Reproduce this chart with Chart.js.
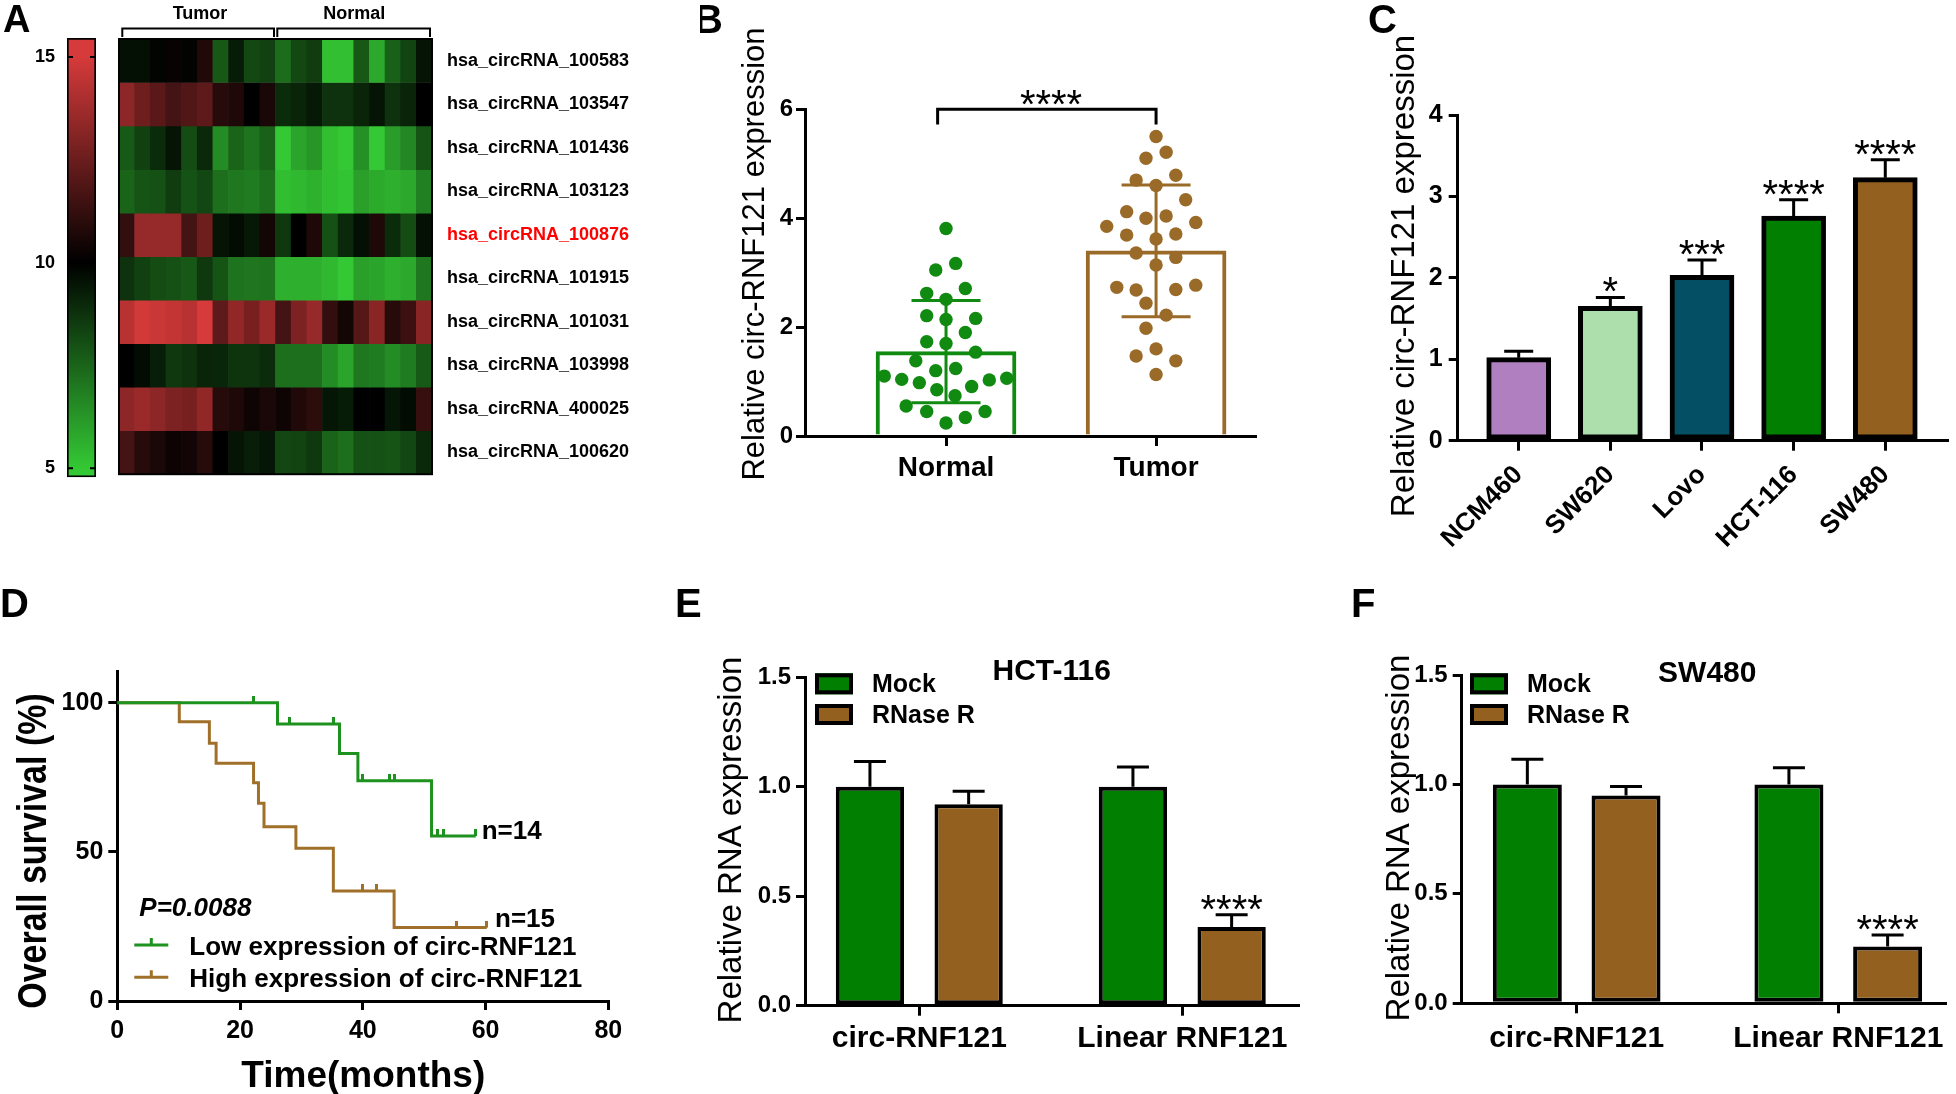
<!DOCTYPE html>
<html>
<head>
<meta charset="utf-8">
<title>circ-RNF121 figure</title>
<script src="https://cdn.jsdelivr.net/npm/chart.js@4.4.1/dist/chart.umd.min.js"></script>
<style>
  html, body { margin: 0; padding: 0; background: #fff; }
  body { position: relative; width: 1956px; height: 1094px; overflow: hidden; }
  canvas { position: absolute; }
</style>
</head>
<body>
<script>
// ---------- data ----------
// A: heatmap (10 circRNAs x 20 samples, first 10 tumor, last 10 normal)
const heatRowNames = ['hsa_circRNA_100583', 'hsa_circRNA_103547', 'hsa_circRNA_101436', 'hsa_circRNA_103123',
  'hsa_circRNA_100876', 'hsa_circRNA_101915', 'hsa_circRNA_101031', 'hsa_circRNA_103998',
  'hsa_circRNA_400025', 'hsa_circRNA_100620'];
const heatSamples = ['T1','T2','T3','T4','T5','T6','T7','T8','T9','T10','N1','N2','N3','N4','N5','N6','N7','N8','N9','N10'];
const heatRows = [
  [9.6, 9.6, 9.9, 10.2, 9.9, 10.8, 7.8, 9.3, 8.2, 8.4, 7.3, 8.2, 8.5, 5.2, 5.2, 7.8, 5.8, 7.6, 8.3, 9.5],
  [13.3, 12.6, 12.1, 11.6, 11.9, 12.2, 10.9, 10.7, 10.0, 10.6, 8.9, 9.1, 9.4, 8.75, 8.75, 9.1, 9.5, 8.75, 9.1, 10.0],
  [7.75, 8.4, 8.9, 9.5, 8.1, 9.0, 6.5, 7.5, 7.1, 7.6, 5.0, 5.9, 6.25, 5.25, 5.0, 6.4, 5.0, 6.1, 6.6, 7.9],
  [7.5, 7.9, 8.0, 8.5, 7.95, 8.25, 7.25, 7.0, 6.9, 7.25, 5.25, 5.4, 5.55, 5.25, 5.1, 6.0, 5.75, 5.6, 5.8, 6.8],
  [11.2, 13.5, 13.5, 13.5, 11.6, 12.6, 9.5, 9.7, 9.4, 10.5, 8.6, 10.0, 10.7, 8.0, 9.0, 9.6, 10.7, 8.9, 8.1, 9.6],
  [8.75, 8.4, 8.1, 8.0, 7.8, 8.6, 7.9, 7.1, 7.05, 7.1, 5.6, 5.6, 5.6, 5.4, 5.0, 6.0, 5.9, 5.6, 5.8, 7.0],
  [14.3, 14.9, 14.7, 14.55, 14.3, 15.0, 12.2, 13.4, 12.8, 13.6, 11.6, 12.9, 13.5, 11.2, 10.5, 12.0, 13.2, 10.9, 11.4, 13.2],
  [10.0, 9.7, 9.25, 8.6, 8.75, 9.1, 9.05, 8.7, 8.7, 8.9, 7.25, 7.25, 7.25, 6.5, 5.9, 7.0, 6.9, 6.5, 6.9, 7.75],
  [13.3, 13.6, 13.3, 12.9, 12.8, 13.4, 10.9, 10.7, 10.35, 10.6, 10.35, 10.8, 11.05, 9.45, 9.3, 10.0, 10.0, 9.45, 9.7, 11.3],
  [11.6, 10.9, 10.6, 10.3, 10.45, 10.9, 10.0, 9.5, 9.25, 9.45, 8.25, 8.3, 8.6, 7.5, 7.25, 8.0, 8.0, 7.9, 8.25, 9.0]
];
const highlightRow = 'hsa_circRNA_100876';
const colorMin = 5, colorMid = 10, colorMax = 15;
const colorTicks = [5, 10, 15];

// B: relative expression, tissue
const bGroups = ['Normal', 'Tumor'];
const bMeans = [1.55, 3.40];
const bSD = [0.94, 1.21];
const normalVals = [3.81, 3.05, 3.17, 2.62, 2.51, 2.71, 2.21, 2.14, 2.16, 1.90, 1.73, 1.70, 1.54, 1.38, 1.20,
  1.24, 1.10, 1.04, 0.98, 1.03, 1.06, 0.85, 0.74, 0.91, 0.55, 0.45, 0.45, 0.34, 0.24];
const normalJitter = [0, -0.049, 0.046, -0.092, 0, 0.092, -0.092, 0, 0.141, 0.092, -0.092, 0, 0.141, -0.144, -0.049,
  0.046, -0.294, -0.211, -0.127, 0.206, 0.289, -0.044, 0.043, 0.122, -0.19, -0.092, 0.186, 0.092, 0];
const tumorVals = [5.50, 5.10, 5.21, 4.70, 4.60, 4.79, 4.34, 4.12, 4.00, 4.04, 3.85, 3.92, 3.69, 3.62, 3.71,
  3.36, 3.28, 3.14, 2.73, 2.68, 2.69, 2.77, 2.44, 2.22, 1.98, 1.47, 1.60, 1.38, 1.13];
const tumorJitter = [0, -0.048, 0.048, -0.095, 0, 0.094, 0.141, -0.140, -0.048, 0.048, -0.235, 0.189, -0.140, 0, 0.094,
  -0.095, 0.094, 0, -0.187, -0.095, 0.094, 0.189, -0.048, 0.048, -0.048, -0.095, 0, 0.094, 0];
const bTicks = [0, 2, 4, 6];

// C: cell lines
const cLines = ['NCM460', 'SW620', 'Lovo', 'HCT-116', 'SW480'];
const cMeans = [1.02, 1.65, 2.03, 2.76, 3.23];
const cSD = [0.08, 0.11, 0.19, 0.20, 0.22];
const cStars = ['', '*', '***', '****', '****'];
const cTicks = [0, 1, 2, 3, 4];

// D: Kaplan-Meier
const lowTimes = [0, 26.1, 36.2, 39.2, 51.2, 58.4];
const lowSurv = [100, 92.9, 83.0, 73.8, 55.3, 55.3];
const lowCensorT = [22.2, 28.1, 35.2, 40.0, 44.3, 45.2, 52.2, 53.2, 58.4];
const lowCensorS = [100, 92.9, 92.9, 73.8, 73.8, 73.8, 55.3, 55.3, 55.3];
const highTimes = [0, 10.1, 15.0, 16.1, 22.2, 23.0, 23.9, 29.1, 35.2, 45.1, 60.2];
const highSurv = [100, 93.6, 86.4, 79.7, 73.2, 66.3, 58.4, 51.2, 36.9, 24.6, 24.6];
const highCensorT = [40.0, 42.2, 55.2, 60.2];
const highCensorS = [36.9, 36.9, 24.6, 24.6];
const dYTicks = [0, 50, 100];

// E, F: RNase R
const rnaGroups = ['circ-RNF121', 'Linear RNF121'];
const eMock = [1.00, 1.00], eMockSD = [0.115, 0.09];
const eRNase = [0.92, 0.36], eRNaseSD = [0.06, 0.055];
const fMock = [1.00, 1.00], fMockSD = [0.115, 0.076];
const fRNase = [0.95, 0.26], fRNaseSD = [0.04, 0.052];
const rnaTicks = [0, 0.5, 1.0, 1.5];

// ---------- style ----------
const FONT = '"Liberation Sans", Arial, Helvetica, sans-serif';
const fnt = (size, weight, style) => `${style || ''} ${weight || 'bold'} ${size}px ${FONT}`;
const GREEN = '#007f00', BROWN = '#946020';
const B_GREEN = '#108a10', B_BROWN = '#9a6a28';
const D_GREEN = '#1e921e', D_BROWN = '#a0702a';
const C_COLORS = ['#b07fc0', '#addfad', '#044f63', '#007f00', '#946020'];

Chart.defaults.font.family = FONT;
Chart.defaults.color = '#000';

function place(left, top, w, h) {
  const c = document.createElement('canvas');
  c.width = w; c.height = h;
  c.style.left = left + 'px'; c.style.top = top + 'px';
  c.style.width = w + 'px'; c.style.height = h + 'px';
  document.body.appendChild(c);
  return c;
}

function baseOpts(padding, scales) {
  return {
    responsive: false, animation: false, devicePixelRatio: 1, events: [],
    layout: { padding },
    plugins: { legend: { display: false }, tooltip: { enabled: false } },
    scales
  };
}

// free text in page coordinates
function notes(left, top, items) {
  return {
    id: 'notes',
    afterDraw(chart) {
      const c = chart.ctx;
      items.forEach(t => {
        c.save();
        c.font = t.font; c.fillStyle = t.color || '#000';
        c.textAlign = t.align || 'left'; c.textBaseline = t.base || 'alphabetic';
        c.translate(t.x - left, t.y - top);
        if (t.rot) c.rotate(t.rot);
        if (t.sx) c.scale(t.sx, 1);
        c.fillText(t.text, 0, 0);
        c.restore();
      });
    }
  };
}

// error bars drawn right after the bar dataset
function errorBars(sets) {
  return {
    id: 'errbars',
    afterDatasetDraw(chart, args) {
      sets.forEach(s => {
        if (args.index !== s.ds) return;
        const meta = chart.getDatasetMeta(s.ds);
        const ys = chart.scales.y, c = chart.ctx;
        meta.data.forEach((el, i) => {
          const v = chart.data.datasets[s.ds].data[i].y;
          const hi = ys.getPixelForValue(v + s.sd[i]);
          const lo = s.both ? ys.getPixelForValue(v - s.sd[i]) : el.y;
          c.save();
          c.strokeStyle = Array.isArray(s.color) ? s.color[i] : s.color;
          c.lineWidth = s.width;
          c.beginPath();
          c.moveTo(el.x, lo); c.lineTo(el.x, hi);
          c.moveTo(el.x - s.cap / 2, hi); c.lineTo(el.x + s.cap / 2, hi);
          if (s.both) { c.moveTo(el.x - s.cap / 2, lo); c.lineTo(el.x + s.cap / 2, lo); }
          c.stroke();
          c.restore();
        });
      });
    }
  };
}

// significance stars (value coordinates; with ds, x is taken from that dataset's bar)
function stars(items, font) {
  return {
    id: 'stars',
    afterDraw(chart) {
      const c = chart.ctx, ys = chart.scales.y;
      c.save();
      c.font = font; c.fillStyle = '#000'; c.textAlign = 'center'; c.textBaseline = 'alphabetic';
      items.forEach(s => {
        if (!s.text) return;
        const px = s.ds !== undefined ? chart.getDatasetMeta(s.ds).data[s.i].x : chart.scales.x.getPixelForValue(s.x);
        c.fillText(s.text, px, ys.getPixelForValue(s.y) + s.dy);
      });
      c.restore();
    }
  };
}

function yAxis(min, max, ticks, width, size, pad, fmt) {
  return {
    type: 'linear', min, max,
    afterBuildTicks: s => { s.ticks = ticks.map(v => ({ value: v })); },
    afterFit: s => { s.width = width; },
    border: { display: true, color: '#000', width: 3 },
    grid: { display: true, drawOnChartArea: false, drawTicks: true, tickLength: 9, color: '#000', lineWidth: 3 },
    ticks: { font: { size, weight: 'bold' }, color: '#000', padding: pad, callback: fmt || (v => v) }
  };
}

function xAxisLinear(min, max, labels, height, size, pad, rot) {
  return {
    type: 'linear', min, max, offset: false,
    afterBuildTicks: s => { s.ticks = labels.map((l, i) => ({ value: i + 1 })); },
    afterFit: s => { s.height = height; },
    border: { display: true, color: '#000', width: 3 },
    grid: { display: true, offset: false, drawOnChartArea: false, drawTicks: true, tickLength: 10, color: '#000', lineWidth: 3 },
    ticks: { font: { size, weight: 'bold' }, color: '#000', padding: pad, autoSkip: false,
      minRotation: rot || 0, maxRotation: rot || 0, callback: (v, i) => labels[i] }
  };
}

function heatColor(v) {
  const t = Math.max(-1, Math.min(1, (v - colorMid) / (colorMax - colorMid)));
  if (t >= 0) return `rgb(${Math.round(214 * t)},${Math.round(58 * t)},${Math.round(58 * t)})`;
  const s = -t;
  return `rgb(${Math.round(52 * s)},${Math.round(200 * s)},${Math.round(52 * s)})`;
}

// ---------- A: colour bar ----------
(function () {
  const L = 0, T = 0;
  new Chart(place(L, T, 110, 500), {
    type: 'bar',
    data: { labels: ['scale'], datasets: [{
      data: [[4.78, 15.46]],
      backgroundColor: ctx => {
        const ch = ctx.chart; if (!ch.chartArea) return '#000';
        const y = ch.scales.y;
        const g = ch.ctx.createLinearGradient(0, y.getPixelForValue(colorMin), 0, y.getPixelForValue(colorMax));
        g.addColorStop(0, heatColor(colorMin)); g.addColorStop(0.5, heatColor(colorMid)); g.addColorStop(1, heatColor(colorMax));
        return g;
      },
      borderColor: '#000', borderWidth: 2, borderSkipped: false,
      barPercentage: 1, categoryPercentage: 1
    }] },
    options: baseOpts({ left: 0, top: 38, right: 14, bottom: 18 }, {
      x: { display: false },
      y: { min: 4.78, max: 15.46,
        afterBuildTicks: s => { s.ticks = colorTicks.map(v => ({ value: v })); },
        afterFit: s => { s.width = 67; },
        border: { display: false }, grid: { display: false, drawTicks: false },
        ticks: { font: { size: 18, weight: 'bold' }, padding: 12 } }
    }),
    plugins: [{
      id: 'cbticks',
      afterDraw(chart) {
        const c = chart.ctx, a = chart.chartArea, y = chart.scales.y;
        c.save(); c.strokeStyle = '#000'; c.lineWidth = 2;
        colorTicks.forEach(v => {
          const py = y.getPixelForValue(v);
          c.beginPath(); c.moveTo(a.left, py); c.lineTo(a.left + 6, py);
          c.moveTo(a.right - 6, py); c.lineTo(a.right, py); c.stroke();
        });
        c.restore();
      }
    }, notes(L, T, [{ text: 'A', x: 3, y: 32, font: fnt(38) }])]
  });
})();

// ---------- A: heatmap ----------
(function () {
  const L = 110, T = 0;
  new Chart(place(L, T, 590, 500), {
    type: 'bar',
    data: {
      labels: heatSamples,
      datasets: heatRows.map((row, r) => ({
        label: heatRowNames[r],
        data: row.map(() => 1),
        backgroundColor: row.map(heatColor),
        borderWidth: 0, barPercentage: 1, categoryPercentage: 1, stack: 'heat'
      }))
    },
    options: baseOpts({ left: 9, top: 39, right: 0, bottom: 18 }, {
      x: { display: false, stacked: true },
      y: { display: false, stacked: true, min: 0, max: heatRows.length, reverse: true },
      yl: { type: 'category', position: 'right', labels: heatRowNames, offset: true,
        afterFit: s => { s.width = 268; },
        border: { display: false }, grid: { display: false, drawTicks: false },
        ticks: { autoSkip: false, padding: 15, font: { size: 18, weight: 'bold' },
          color: ctx => heatRowNames[ctx.index] === highlightRow ? '#ff0000' : '#000' } }
    }),
    plugins: [{
      id: 'frame',
      afterDatasetsDraw(chart) {
        const c = chart.ctx, a = chart.chartArea;
        c.save(); c.strokeStyle = '#000'; c.lineWidth = 2;
        c.strokeRect(a.left, a.top, a.right - a.left, a.bottom - a.top);
        // group brackets
        [[122.3, 274], [277.3, 430]].forEach(([x0, x1]) => {
          c.beginPath();
          c.moveTo(x0 - L, 37); c.lineTo(x0 - L, 28.5); c.lineTo(x1 - L, 28.5); c.lineTo(x1 - L, 37);
          c.stroke();
        });
        c.restore();
      }
    }, notes(L, T, [
      { text: 'Tumor', x: 200, y: 18.5, font: fnt(18), align: 'center' },
      { text: 'Normal', x: 354.3, y: 18.5, font: fnt(18), align: 'center' }
    ])]
  });
})();

// ---------- B ----------
(function () {
  const L = 700, T = 0;
  new Chart(place(L, T, 563, 500), {
    type: 'bar',
    data: { datasets: [
      { type: 'scatter', data: normalVals.map((v, i) => ({ x: 1 + normalJitter[i], y: v })),
        backgroundColor: B_GREEN, borderWidth: 0, pointRadius: 6.7, order: 0 },
      { type: 'scatter', data: tumorVals.map((v, i) => ({ x: 2 + tumorJitter[i], y: v })),
        backgroundColor: B_BROWN, borderWidth: 0, pointRadius: 6.7, order: 0 },
      { type: 'bar', data: bMeans.map((v, i) => ({ x: i + 1, y: v })),
        backgroundColor: '#fff', borderColor: [B_GREEN, B_BROWN], borderWidth: 4, barThickness: 140, order: 1 }
    ] },
    options: baseOpts({ left: 0, top: 109.3, right: 8, bottom: 0 }, {
      x: xAxisLinear(0.3286, 2.471, bGroups, 64, 28, 5),
      y: yAxis(0, 6, bTicks, 105, 24, 3)
    }),
    plugins: [errorBars([{ ds: 2, sd: bSD, both: true, color: [B_GREEN, B_BROWN], width: 3, cap: 69 }]),
      {
        id: 'bracket',
        afterDraw(chart) {
          const c = chart.ctx, xs = chart.scales.x, ys = chart.scales.y;
          const x0 = xs.getPixelForValue(0.96), x1 = xs.getPixelForValue(2);
          const yt = ys.getPixelForValue(6), yb = ys.getPixelForValue(5.72);
          c.save(); c.strokeStyle = '#000'; c.lineWidth = 3;
          c.beginPath(); c.moveTo(x0, yb); c.lineTo(x0, yt); c.lineTo(x1, yt); c.lineTo(x1, yb); c.stroke();
          c.restore();
        }
      },
      stars([{ text: '****', x: 1.5, y: 6, dy: 9 }], fnt(40, 'normal')),
      notes(L, T, [
        { text: 'B', x: 694, y: 33, font: fnt(40) },
        { text: 'Relative circ-RNF121 expression', x: 755, y: 254, font: fnt(31, 'normal'), align: 'center', base: 'middle', rot: -Math.PI / 2 }
      ])]
  });
})();

// ---------- C ----------
(function () {
  const L = 1300, T = 0;
  new Chart(place(L, T, 656, 600), {
    type: 'bar',
    data: { datasets: [{
      data: cMeans.map((v, i) => ({ x: i + 1, y: v })),
      backgroundColor: C_COLORS, borderColor: '#000', borderWidth: 5, borderSkipped: false, barThickness: 64
    }] },
    options: baseOpts({ left: 0, top: 115, right: 8.3, bottom: 0 }, {
      x: xAxisLinear(0.3344, 5.681, cLines, 159.3, 26, 9, 45),
      y: yAxis(0, 4, cTicks, 157.7, 25, 6)
    }),
    plugins: [errorBars([{ ds: 0, sd: cSD, both: false, color: '#000', width: 3, cap: 29 }]),
      stars(cMeans.map((m, i) => ({ text: cStars[i], x: i + 1, y: m + cSD[i], dy: 8 })), fnt(40, 'normal')),
      notes(L, T, [
        { text: 'C', x: 1368, y: 33, font: fnt(40) },
        { text: 'Relative circ-RNF121 expression', x: 1405, y: 276, font: fnt(33, 'normal'), align: 'center', base: 'middle', rot: -Math.PI / 2 }
      ])]
  });
})();

// ---------- D ----------
function censorMark(color) {
  const c = document.createElement('canvas');
  c.width = 3; c.height = 14;
  const g = c.getContext('2d');
  g.fillStyle = color; g.fillRect(0, 0, 3, 7);
  return c;
}
(function () {
  const L = 0, T = 560;
  new Chart(place(L, T, 640, 534), {
    type: 'line',
    data: { datasets: [
      { data: lowTimes.map((t, i) => ({ x: t, y: lowSurv[i] })), stepped: true, borderColor: D_GREEN, borderWidth: 3, pointRadius: 0, fill: false },
      { data: highTimes.map((t, i) => ({ x: t, y: highSurv[i] })), stepped: true, borderColor: D_BROWN, borderWidth: 3, pointRadius: 0, fill: false },
      { data: lowCensorT.map((t, i) => ({ x: t, y: lowCensorS[i] })), showLine: false, pointStyle: censorMark(D_GREEN), pointRadius: 5 },
      { data: highCensorT.map((t, i) => ({ x: t, y: highCensorS[i] })), showLine: false, pointStyle: censorMark(D_BROWN), pointRadius: 5 }
    ] },
    options: baseOpts({ left: 0, top: 111.7, right: 31.7, bottom: 0 }, {
      x: { type: 'linear', min: 0, max: 80,
        ticks: { stepSize: 20, font: { size: 25, weight: 'bold' }, padding: 6 },
        afterFit: s => { s.height = 93; },
        border: { display: true, color: '#000', width: 3 },
        grid: { drawOnChartArea: false, tickLength: 9, color: '#000', lineWidth: 3 } },
      y: yAxis(0, 110.4, dYTicks, 117.3, 25, 5)
    }),
    plugins: [{
      id: 'kmlegend',
      afterDraw(chart) {
        const c = chart.ctx;
        c.save(); c.lineWidth = 3;
        [[945, D_GREEN], [977.3, D_BROWN]].forEach(([y, col]) => {
          c.strokeStyle = col;
          c.beginPath(); c.moveTo(134.3 - L, y - T); c.lineTo(168.3 - L, y - T);
          c.moveTo(151.3 - L, y - T); c.lineTo(151.3 - L, y - T - 7); c.stroke();
        });
        c.restore();
      }
    }, notes(L, T, [
      { text: 'D', x: 0, y: 617, font: fnt(40) },
      { text: 'Overall survival (%)', x: 35, y: 851, font: fnt(40), align: 'center', base: 'middle', rot: -Math.PI / 2, sx: 0.85 },
      { text: 'Time(months)', x: 363.3, y: 1086.5, font: fnt(37), align: 'center' },
      { text: 'P=0.0088', x: 139.3, y: 916, font: fnt(26, 'bold', 'italic') },
      { text: 'n=14', x: 481.7, y: 839, font: fnt(26) },
      { text: 'n=15', x: 495, y: 927.3, font: fnt(26) },
      { text: 'Low expression of circ-RNF121', x: 189.3, y: 955, font: fnt(26) },
      { text: 'High expression of circ-RNF121', x: 189.3, y: 986.5, font: fnt(26) }
    ])]
  });
})();

// ---------- E / F ----------
function rnaPanel(o) {
  const L = o.L, T = o.T;
  const barOpts = { borderColor: '#000', borderWidth: 4, borderSkipped: false,
    categoryPercentage: o.cp, barPercentage: o.bp };
  new Chart(place(L, T, o.W, 534), {
    type: 'bar',
    data: { datasets: [
      Object.assign({ label: 'Mock', data: o.mock.map((v, i) => ({ x: i + 1, y: v })), backgroundColor: GREEN }, barOpts),
      Object.assign({ label: 'RNase R', data: o.rnase.map((v, i) => ({ x: i + 1, y: v })), backgroundColor: BROWN }, barOpts)
    ] },
    options: baseOpts({ left: 0, top: o.top, right: o.right, bottom: 0 }, {
      x: xAxisLinear(o.xmin, o.xmax, rnaGroups, o.xh, 30, o.xpad),
      y: yAxis(0, 1.5, rnaTicks, o.yw, 24, 5, v => v.toFixed(1))
    }),
    plugins: [errorBars([
        { ds: 0, sd: o.mockSD, both: false, color: '#000', width: 3, cap: 32 },
        { ds: 1, sd: o.rnaseSD, both: false, color: '#000', width: 3, cap: 32 }
      ]),
      stars([{ text: '****', ds: 1, i: 1, y: o.rnase[1] + o.rnaseSD[1], dy: 8 }], fnt(40, 'normal')),
      {
        id: 'rnalegend',
        afterDraw(chart) {
          const c = chart.ctx;
          [[o.lx, o.ly1, GREEN], [o.lx, o.ly2, BROWN]].forEach(([x, y, col]) => {
            c.save();
            c.fillStyle = col; c.fillRect(x - L, y - T, 38, 21);
            c.strokeStyle = '#000'; c.lineWidth = 4; c.strokeRect(x - L + 2, y - T + 2, 34, 17);
            c.restore();
          });
        }
      },
      notes(L, T, [
        { text: o.letter, x: o.letterX, y: o.letterY, font: fnt(40) },
        { text: o.title, x: o.titleX, y: o.titleY, font: fnt(30), align: 'center' },
        { text: 'Mock', x: o.lx + 57, y: o.ly1 + 18.5, font: fnt(25) },
        { text: 'RNase R', x: o.lx + 57, y: o.ly2 + 19, font: fnt(25) },
        { text: 'Relative RNA expression', x: o.ytx, y: o.yty, font: fnt(33, 'normal'), align: 'center', base: 'middle', rot: -Math.PI / 2 }
      ])]
  });
}

rnaPanel({ L: 660, T: 560, W: 660, top: 117.3, right: 22, xh: 88.3, yw: 145, xpad: 5,
  xmin: 0.5654, xmax: 2.44, cp: 0.7506, bp: 0.692,
  mock: eMock, mockSD: eMockSD, rnase: eRNase, rnaseSD: eRNaseSD,
  letter: 'E', letterX: 675, letterY: 617, title: 'HCT-116', titleX: 1051.7, titleY: 679.5,
  lx: 815, ly1: 673.3, ly2: 704, ytx: 732, yty: 840 });

rnaPanel({ L: 1320, T: 560, W: 636, top: 115, right: 11, xh: 90.7, yw: 141.7, xpad: 7,
  xmin: 0.5604, xmax: 2.408, cp: 0.7546, bp: 0.699,
  mock: fMock, mockSD: fMockSD, rnase: fRNase, rnaseSD: fRNaseSD,
  letter: 'F', letterX: 1351, letterY: 617, title: 'SW480', titleX: 1707.3, titleY: 681.7,
  lx: 1470, ly1: 673.3, ly2: 704, ytx: 1400, yty: 838 });
</script>
</body>
</html>
